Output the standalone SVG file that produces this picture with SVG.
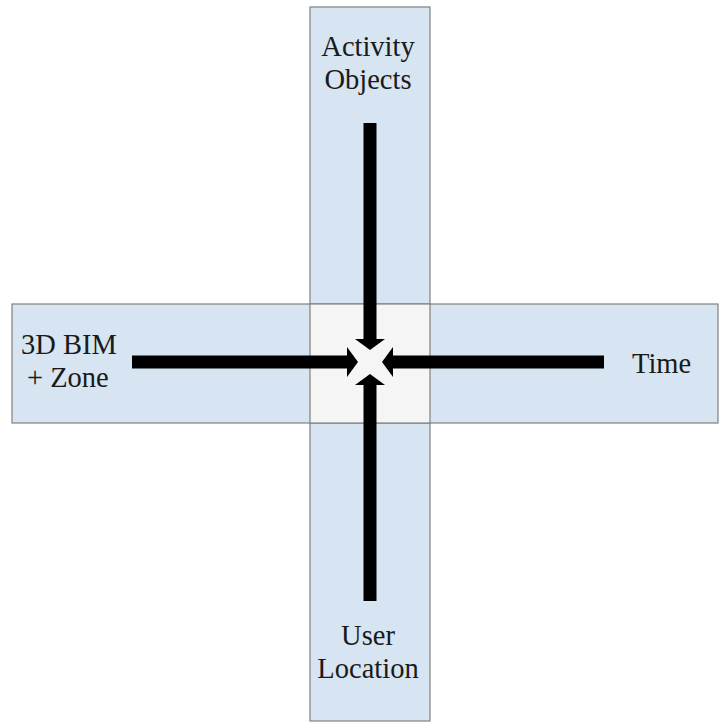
<svg xmlns="http://www.w3.org/2000/svg" width="719" height="723" viewBox="0 0 719 723">
<defs>
<style>
.strip{fill:#d7e4f1;stroke:#808080;stroke-width:1.2}
.center{fill:#f5f5f5;stroke:#808080;stroke-width:1.2}
.lbl{font-family:"Liberation Serif","Times New Roman",serif;font-size:28.5px;fill:#1a1a1a}
.bar{stroke:#000;stroke-width:13;fill:none}
.head{fill:#000}
</style>
</defs>
<rect width="719" height="723" fill="#ffffff"/>
<g id="vertical-strip">
<rect class="strip" x="310" y="7" width="120" height="714"/>
</g>
<g id="horizontal-strip">
<rect class="strip" x="12" y="304" width="706" height="119"/>
</g>
<g id="center">
<rect class="center" x="310" y="304" width="120" height="119"/>
</g>
<g id="activity-objects">
<text class="lbl" x="368" y="56" text-anchor="middle">Activity</text>
<text class="lbl" x="368" y="89" text-anchor="middle">Objects</text>
</g>
<g id="bim-zone">
<text class="lbl" x="21" y="354">3D BIM</text>
<text class="lbl" x="27" y="387">+ Zone</text>
</g>
<g id="time">
<text class="lbl" x="632" y="373">Time</text>
</g>
<g id="user-location">
<text class="lbl" x="368" y="645" text-anchor="middle">User</text>
<text class="lbl" x="368" y="678" text-anchor="middle">Location</text>
</g>
<g id="connectors">
<line class="bar" x1="370" y1="123" x2="370" y2="340"/>
<path class="head" d="M355,339 L385,339 L370,350 Z"/>
<line class="bar" x1="370" y1="601" x2="370" y2="384"/>
<path class="head" d="M355,385 L385,385 L370,374 Z"/>
<line class="bar" x1="132" y1="362" x2="348" y2="362"/>
<path class="head" d="M347,347 L347,377 L358,362 Z"/>
<line class="bar" x1="604" y1="362" x2="392" y2="362"/>
<path class="head" d="M393,347 L393,377 L382,362 Z"/>
</g>
</svg>
